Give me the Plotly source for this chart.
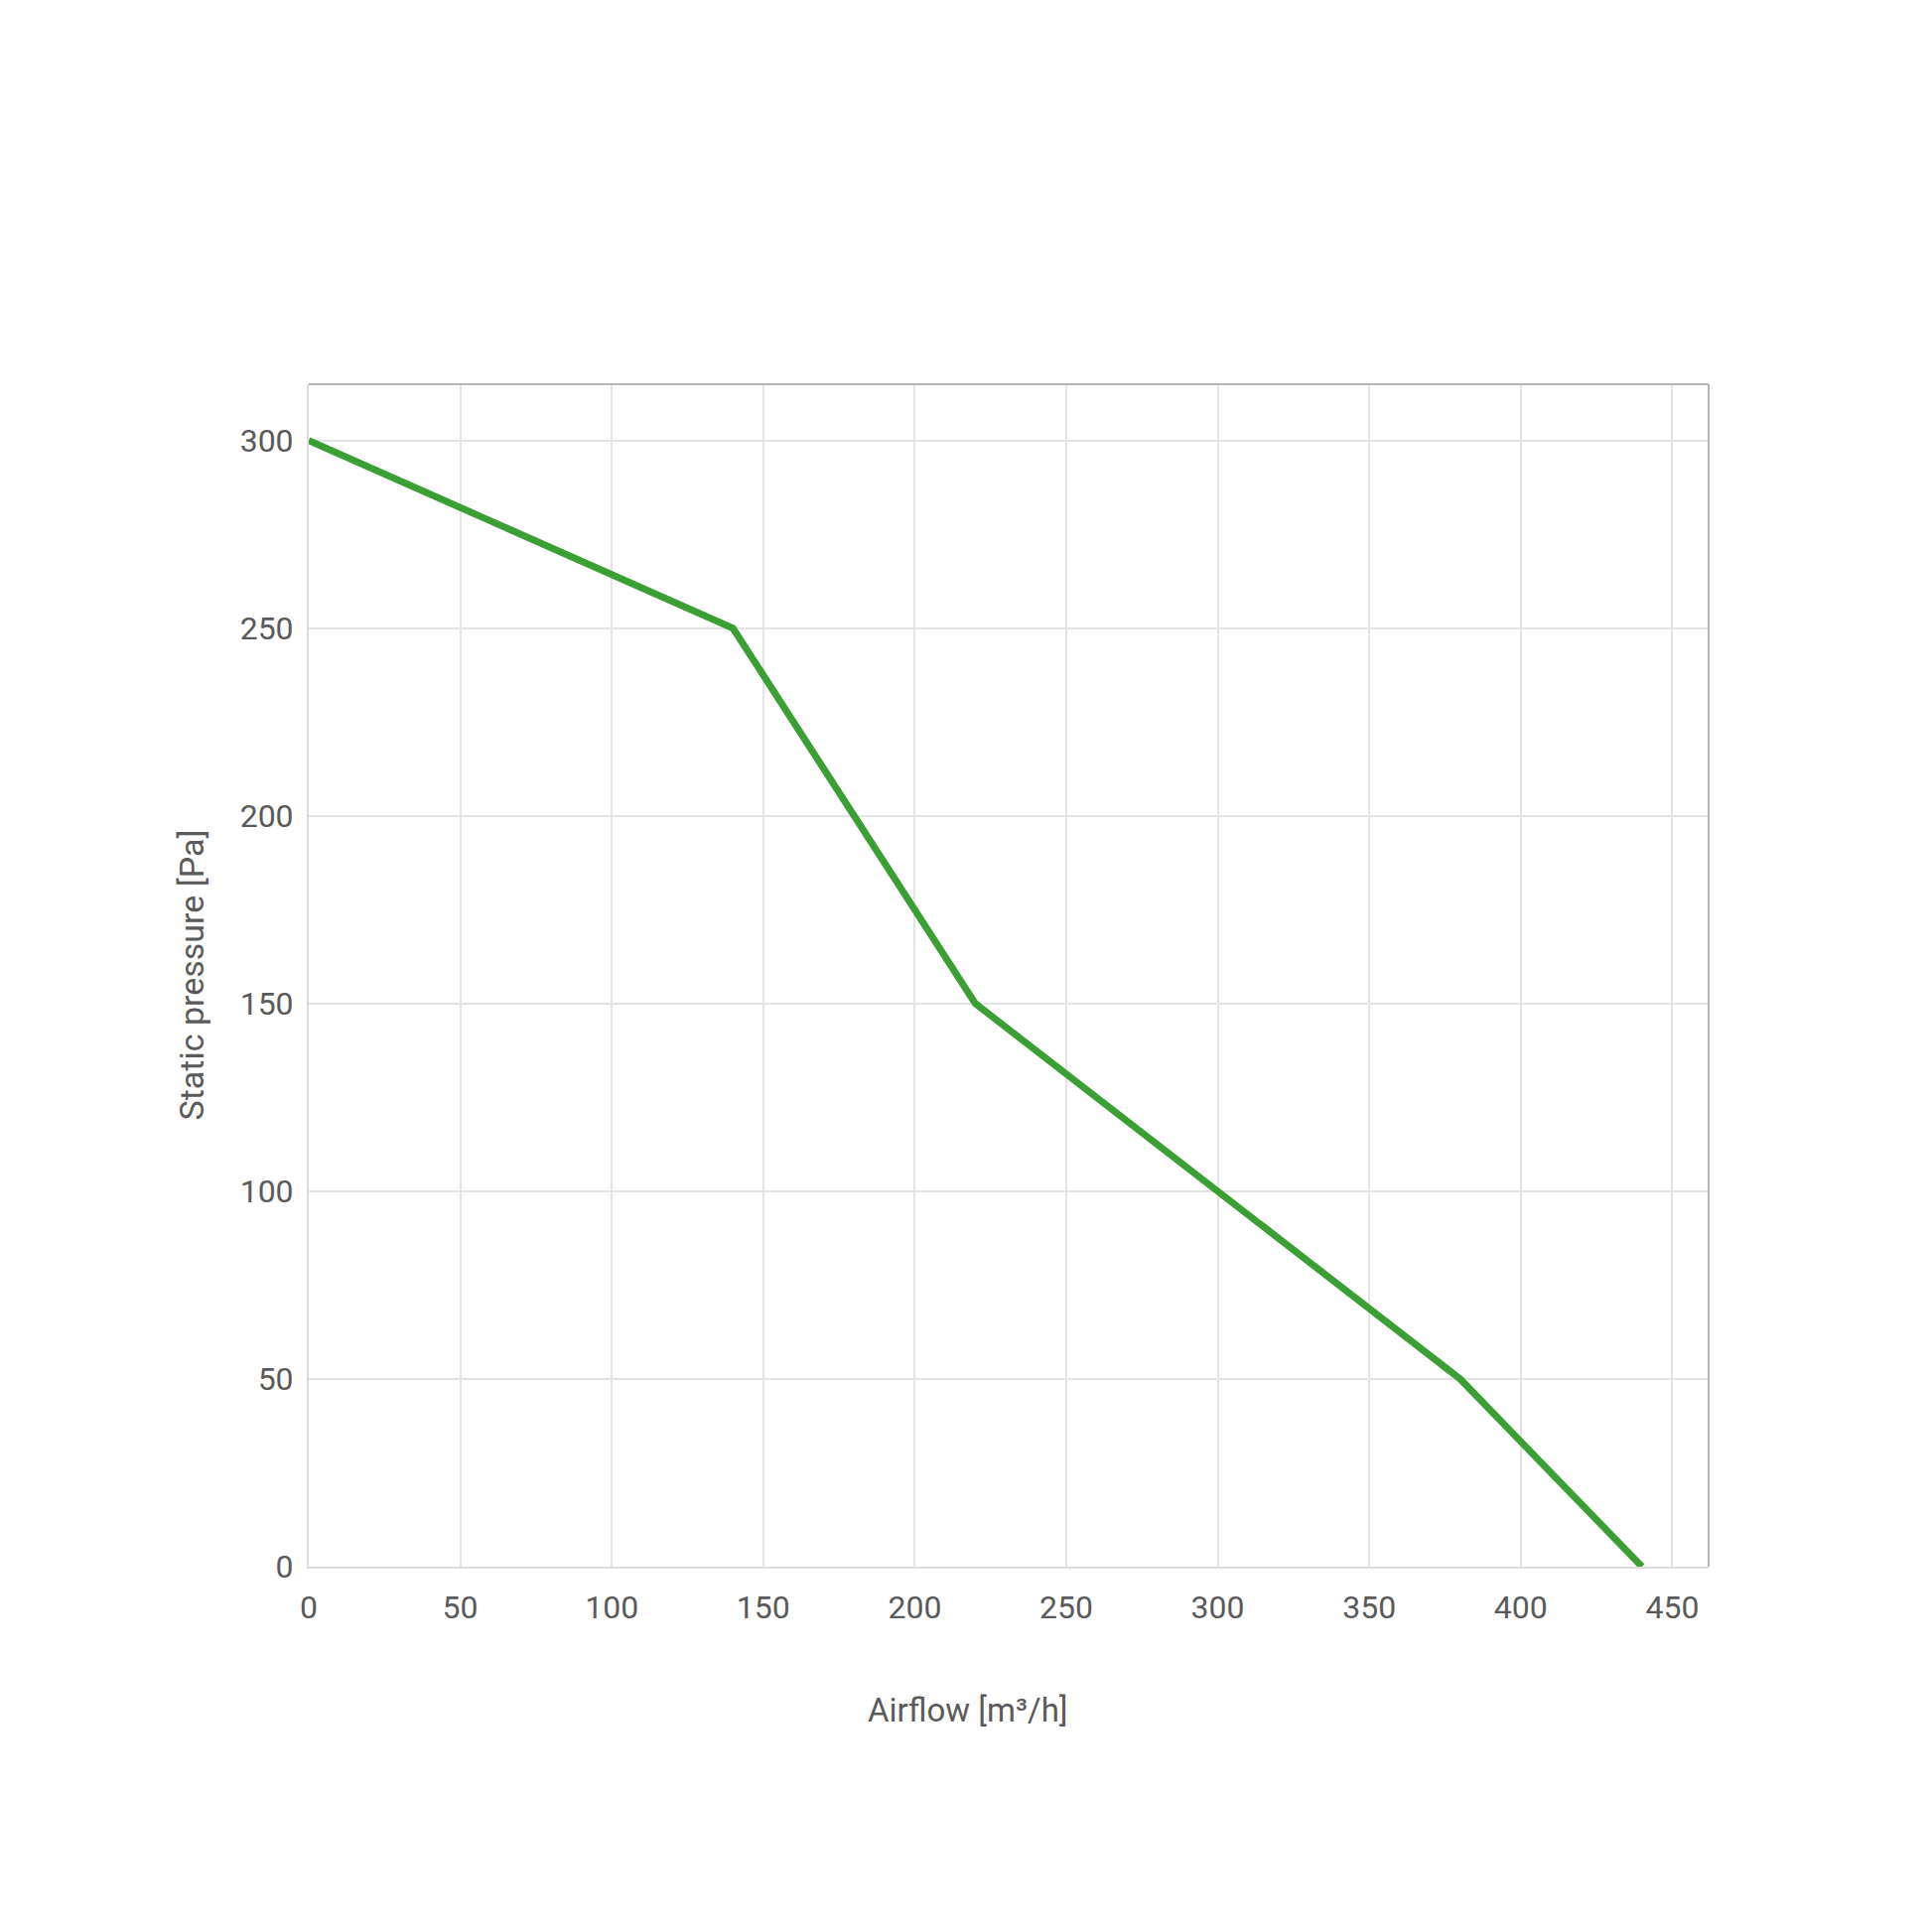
import plotly.graph_objects as go

airflow = [0, 140, 220, 380, 440]
pressure = [300, 250, 150, 50, 0]

x_ticks = [0, 50, 100, 150, 200, 250, 300, 350, 400, 450]
y_ticks = [0, 50, 100, 150, 200, 250, 300]

fig = go.Figure()
fig.add_trace(go.Scatter(
    x=airflow, y=pressure, mode="lines",
    line=dict(color="#3c9f36", width=7),
    showlegend=False, hoverinfo="skip",
))

font = dict(family="Roboto, Lato, sans-serif", size=30, color="#5a5a5a")

fig.update_layout(
    width=1946, height=1946,
    paper_bgcolor="white", plot_bgcolor="white",
    margin=dict(l=303, r=233, t=379, b=376),
    font=font,
    xaxis=dict(
        range=[0, 462], tickvals=x_ticks, showgrid=True,
        gridcolor="#e4e4e4", gridwidth=2, zeroline=False,
        showline=True, linecolor="#dcdcdc", linewidth=2,
        ticks="", ticklabelstandoff=12,
        tickfont=dict(size=32, color="#5a5a5a"),
    ),
    yaxis=dict(
        range=[0, 315], tickvals=y_ticks, showgrid=True,
        gridcolor="#e4e4e4", gridwidth=2, zeroline=False,
        showline=True, linecolor="#dcdcdc", linewidth=2,
        ticks="", ticklabelstandoff=7,
        tickfont=dict(size=32, color="#5a5a5a"),
    ),
    annotations=[
        dict(text="Airflow [m³/h]", xref="paper", yref="paper", x=0.471, y=0,
             xanchor="center", yanchor="middle", yshift=-144, showarrow=False,
             font=dict(size=33, color="#5a5a5a")),
        dict(text="Static pressure [Pa]", xref="paper", yref="paper", x=0, y=0.5,
             xanchor="center", yanchor="middle", xshift=-119, textangle=-90,
             showarrow=False, font=dict(size=34, color="#5a5a5a")),
    ],
    shapes=[
        dict(type="line", xref="paper", yref="paper", x0=0, x1=1, y0=1, y1=1,
             line=dict(color="#b4b4b4", width=2)),
        dict(type="line", xref="paper", yref="paper", x0=1, x1=1, y0=0, y1=1,
             line=dict(color="#b4b4b4", width=2)),
    ],
)

fig.write_html("out.html")
